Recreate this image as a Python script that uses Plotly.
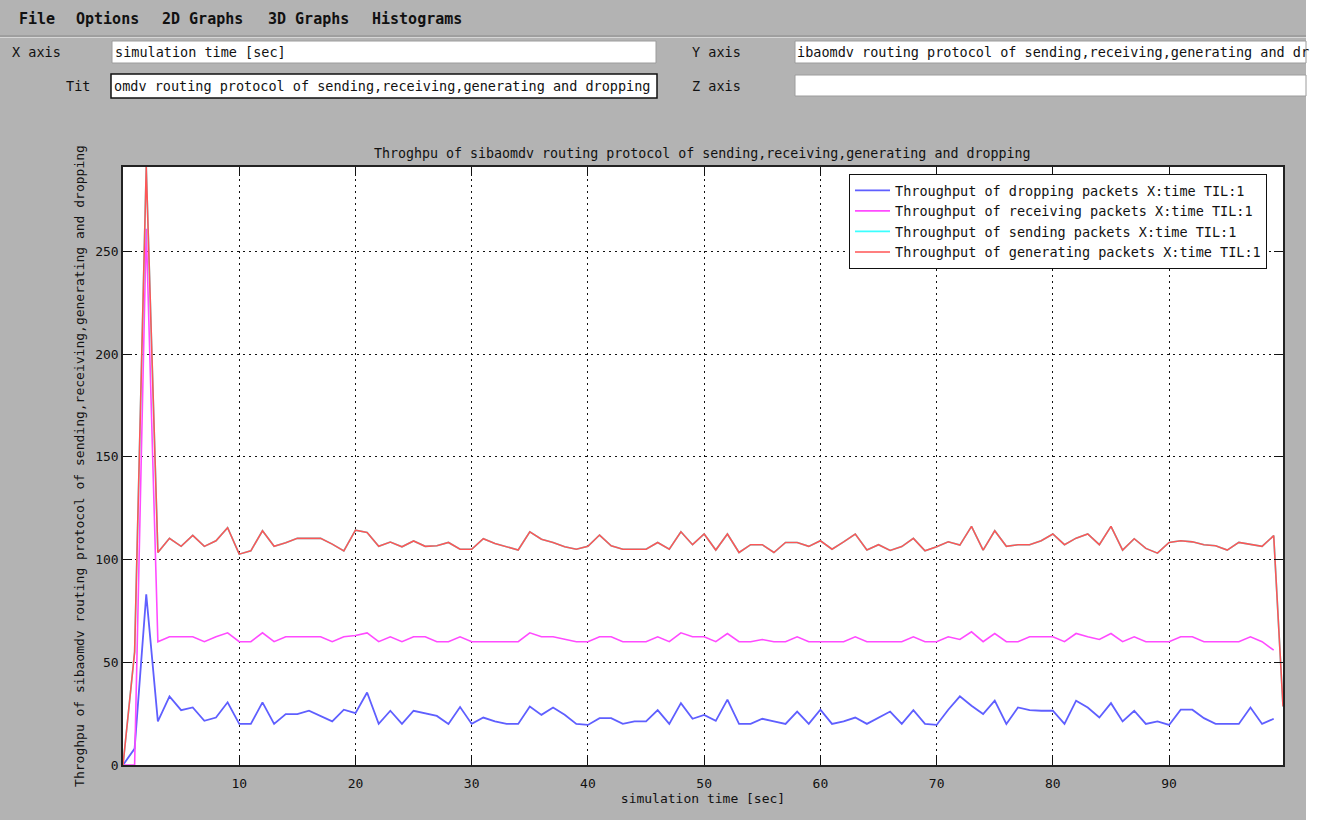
import plotly.graph_objects as go

# ---------------- data ----------------
time_s = list(range(0, 100))

dropping = [0, 8, 83, 21.2, 33.4, 26.7, 28, 21.5, 23.1, 30.5,
            20, 20, 30.5, 20, 24.8, 24.8, 26.4, 23.9, 21.2, 26.9,
            25.2, 35.3, 20, 26.4, 20, 26.4, 25.2, 23.9, 20, 28.2,
            20, 23.1, 21.2, 20, 20, 28.5, 24.4, 28, 24.4, 20,
            19.5, 22.8, 22.8, 20, 21.2, 21.2, 26.7, 20, 30.1, 22.5,
            24.4, 21.5, 31.8, 20, 20, 22.5, 21.2, 20, 26, 20,
            26.9, 20, 21.2, 23.1, 20, 22.8, 26, 20, 26.7, 20,
            19.5, 26.9, 33.4, 28.8, 24.8, 31.3, 20, 28, 26.7, 26.4,
            26.4, 20, 31.3, 28, 23.1, 30.1, 21.2, 26.4, 20, 21.2,
            19.5, 26.9, 26.9, 22.8, 20, 20, 20, 28, 20, 22.5]

receiving = [0, 0, 261, 60, 62.4, 62.4, 62.4, 60, 62.4, 64.3,
             60, 60, 64.3, 60, 62.4, 62.4, 62.4, 62.4, 60, 62.4,
             63, 64.3, 60, 62.4, 60, 62.4, 62.4, 60, 60, 62.4,
             60, 60, 60, 60, 60, 64.3, 62.4, 62.4, 61.1, 60,
             60, 62.4, 62.4, 60, 60, 60, 62.4, 60, 64.3, 62.4,
             62.4, 60, 64, 60, 60, 61.1, 60, 60, 62.4, 60,
             60, 60, 60, 62.4, 60, 60, 60, 60, 62.4, 60,
             60, 62.4, 61.1, 64.8, 60, 64, 60, 60, 62.4, 62.4,
             62.4, 60, 64, 62.4, 61.1, 64, 60, 62.4, 60, 60,
             60, 62.4, 62.4, 60, 60, 60, 60, 62.4, 60, 55.9]

gen_time = list(range(0, 100)) + [99.8]
generating = [0, 55, 291, 103.4, 110.3, 106.4, 111.7, 106.4, 109.1, 115.5,
              102.6, 104.2, 114, 106.4, 108.1, 110.3, 110.3, 110.3, 107.5, 104.2,
              114.3, 113.2, 106.4, 108.5, 106.2, 109, 106.4, 106.7, 108.3, 105,
              105, 110.1, 107.8, 106.2, 104.6, 113.5, 109.9, 108.3, 106.2, 105,
              106.4, 111.9, 106.7, 105, 105, 105, 108.3, 105, 113.5, 107.2,
              112.4, 104.6, 112.4, 103.4, 107.2, 107.2, 103.4, 108.3, 108.3, 106.4,
              109.1, 105, 108.6, 112.4, 104.6, 107.2, 104.4, 106.3, 110.3, 104.2,
              106.2, 108.6, 107, 116.1, 104.6, 114, 106.4, 107.2, 107.2, 109.1,
              112.4, 107.2, 110.4, 112.4, 107.2, 116.1, 104.6, 110.1, 105.4, 103.1,
              108.3, 109.1, 108.6, 107.2, 106.7, 104.6, 108.3, 107.2, 106.4, 111.6,
              28.5]
# the sending curve is completely hidden under the generating curve
sending = list(generating)

series_names = ["Throughput of dropping packets X:time TIL:1",
                "Throughput of receiving packets X:time TIL:1",
                "Throughput of sending packets X:time TIL:1",
                "Throughput of generating packets X:time TIL:1"]

x_ticks = [10, 20, 30, 40, 50, 60, 70, 80, 90]
y_ticks = [0, 50, 100, 150, 200, 250]

chart_title = "Throghpu of sibaomdv routing protocol of sending,receiving,generating and dropping"
x_title = "simulation time [sec]"
y_title = chart_title
menu_items = ["File", "Options", "2D Graphs", "3D Graphs", "Histograms"]

# ---------------- layout helpers ----------------
W, H = 1319, 820
L, R, T, B = 123, 1283, 167, 765
GRAY = "#b3b3b3"
MONO = "DejaVu Sans Mono"


def fx(px):
    return (px - L) / (R - L)


def fy(py):
    return (B - py) / (B - T)


fig = go.Figure()
fig.add_trace(go.Scatter(x=time_s, y=dropping, mode="lines", name=series_names[0],
                         line=dict(color="rgb(95,95,255)", width=1.8)))
fig.add_trace(go.Scatter(x=time_s, y=receiving, mode="lines", name=series_names[1],
                         line=dict(color="rgb(255,75,255)", width=1.6)))
fig.add_trace(go.Scatter(x=gen_time, y=sending, mode="lines", name=series_names[2],
                         line=dict(color="rgb(60,255,255)", width=1.6)))
fig.add_trace(go.Scatter(x=gen_time, y=generating, mode="lines", name=series_names[3],
                         line=dict(color="rgb(255,85,85)", width=1.6)))

axis_common = dict(
    ticks="inside", ticklen=9, tickcolor="#111", tickwidth=1,
    showline=True, linecolor="#222", linewidth=1.5, mirror="ticks",
    showgrid=True, gridcolor="#111", gridwidth=1, griddash="2px,4px",
    zeroline=False, tickfont=dict(family=MONO, size=13, color="#111"),
)

fig.update_xaxes(range=[0, 99.8], tickvals=x_ticks, ticklabelstandoff=6, **axis_common,
                 title=dict(text=x_title, font=dict(family=MONO, size=13, color="#111"), standoff=4))
fig.update_yaxes(range=[0, 291], tickvals=y_ticks, **axis_common,
                 title=dict(text=y_title, font=dict(family=MONO, size=13, color="#111"), standoff=8))

shapes = []
# white strip beyond the application window
shapes.append(dict(type="rect", xref="paper", yref="paper", x0=fx(1306), x1=fx(1330),
                   y0=fy(830), y1=fy(-10), fillcolor="white", line=dict(width=0)))
# menu separator
shapes.append(dict(type="line", xref="paper", yref="paper", x0=fx(0), x1=fx(1306),
                   y0=fy(36), y1=fy(36), line=dict(color="#8a8a8a", width=1)))
shapes.append(dict(type="line", xref="paper", yref="paper", x0=fx(0), x1=fx(1306),
                   y0=fy(37.5), y1=fy(37.5), line=dict(color="#d6d6d6", width=1)))
# input boxes
boxes = [(112, 41, 656, 63, "#9c9c9c", 1),
         (111, 74, 657, 98, "#111", 1.5),
         (795, 41, 1306, 63, "#9c9c9c", 1),
         (795, 75, 1306, 96, "#9c9c9c", 1)]
for x0, y0, x1, y1, lc, lw in boxes:
    shapes.append(dict(type="rect", xref="paper", yref="paper", x0=fx(x0), x1=fx(x1),
                       y0=fy(y1), y1=fy(y0), fillcolor="white", line=dict(color=lc, width=lw)))

annotations = []
menu_x = [17, 74, 160, 266, 370]
for label, mx in zip(menu_items, menu_x):
    annotations.append(dict(text="<b>" + label + "</b>", x=fx(mx), y=fy(19), xref="paper", yref="paper",
                            xanchor="left", yanchor="middle", showarrow=False,
                            font=dict(family=MONO, size=15, color="#111")))

text_items = [("X axis", 10, 52), ("Tit", 64, 86), ("Y axis", 690, 52), ("Z axis", 690, 86),
              ("simulation time [sec]", 113, 52),
              ("omdv routing protocol of sending,receiving,generating and dropping", 112, 86),
              ("ibaomdv routing protocol of sending,receiving,generating and dr", 795, 52)]
for txt, tx, ty in text_items:
    annotations.append(dict(text=txt, x=fx(tx), y=fy(ty), xref="paper", yref="paper",
                            xanchor="left", yanchor="middle", showarrow=False,
                            font=dict(family=MONO, size=13.5, color="#111")))

annotations.append(dict(text=chart_title, x=fx(702), y=fy(153), xref="paper", yref="paper",
                        xanchor="center", yanchor="middle", showarrow=False,
                        font=dict(family=MONO, size=13.3, color="#111")))

fig.update_layout(
    width=W, height=H, autosize=False,
    margin=dict(l=L, r=W - R, t=T, b=H - B, pad=0),
    paper_bgcolor=GRAY, plot_bgcolor="white",
    showlegend=True,
    legend=dict(x=fx(849), y=fy(174), xanchor="left", yanchor="top",
                bgcolor="white", bordercolor="#111", borderwidth=1,
                font=dict(family=MONO, size=13.5, color="#111"),
                itemwidth=35, tracegroupgap=0),
    shapes=shapes, annotations=annotations,
)

fig.write_html("out.html", config={"displayModeBar": False})
